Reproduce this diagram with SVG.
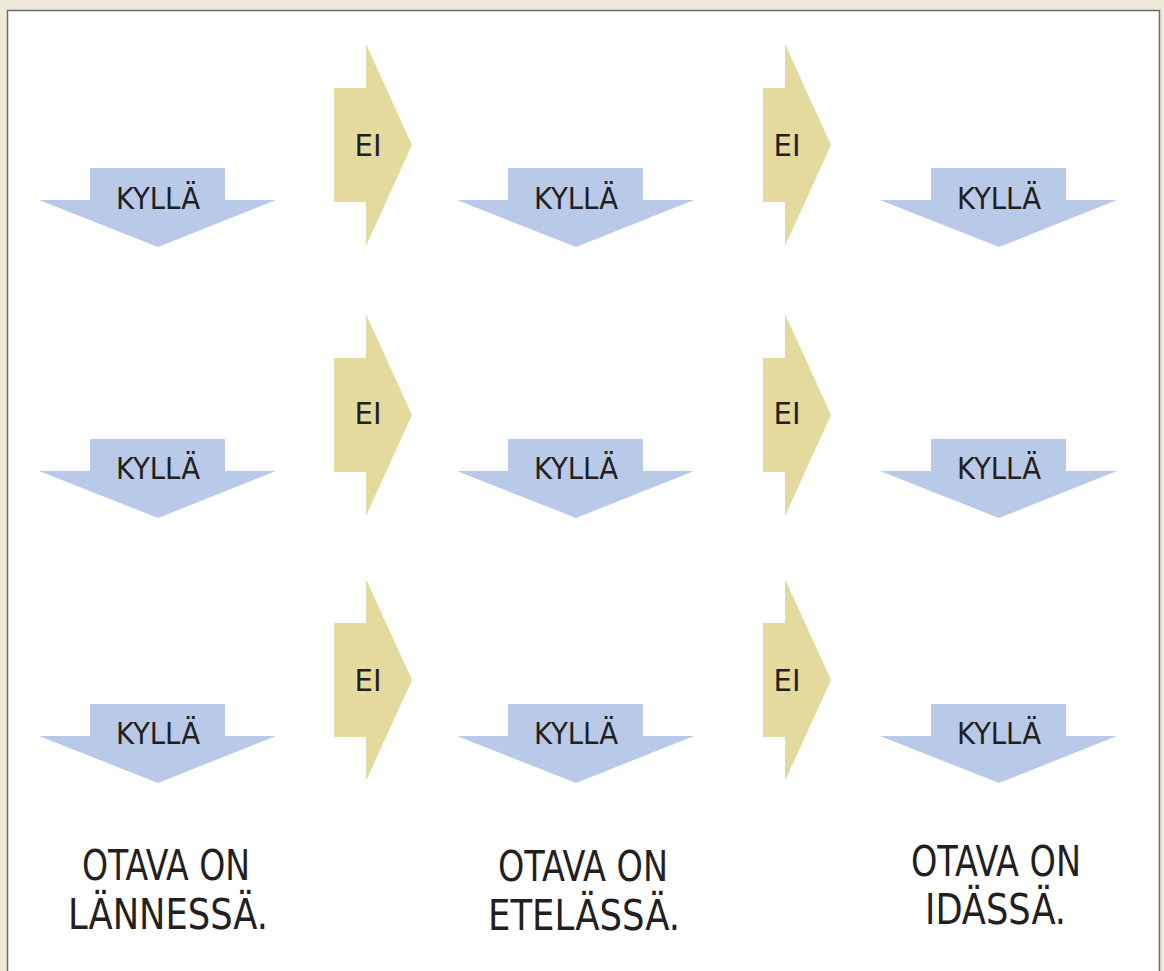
<svg xmlns="http://www.w3.org/2000/svg" width="1164" height="971" viewBox="0 0 1164 971">
<style>
.down{fill:#b9c9e8}
.right{fill:#e4da9e}
.t{font-family:"DejaVu Sans Condensed","DejaVu Sans",sans-serif;fill:#231f20}
.s{font-size:30px;text-anchor:middle}
.b{font-size:43px}
</style>
<defs>
<path id="dn" d="M51,0H186V32H237L119,79L0,32H51Z"/>
<path id="rt" d="M0,44H32V0L78,101L32,202V158H0Z"/>
<path id="rt2" d="M0,44H22V0L68,101L22,202V158H0Z"/>
</defs>
<rect x="0" y="0" width="1164" height="971" fill="#efe9da"/>
<rect x="7" y="10" width="1152" height="970" fill="#ffffff"/>
<path d="M7.5,980V10.5H1159.5V980" fill="none" stroke="#6f6a64" stroke-width="1.5"/>
<g id="connectors">
<use href="#rt" x="334" y="44" class="right"/>
<use href="#rt2" x="763" y="44" class="right"/>
<use href="#rt" x="334" y="314" class="right"/>
<use href="#rt2" x="763" y="314" class="right"/>
<use href="#rt" x="334" y="579" class="right"/>
<use href="#rt2" x="763" y="579" class="right"/>
<use href="#dn" x="39" y="168" class="down"/>
<use href="#dn" x="457" y="168" class="down"/>
<use href="#dn" x="880" y="168" class="down"/>
<use href="#dn" x="39" y="439" class="down"/>
<use href="#dn" x="457" y="439" class="down"/>
<use href="#dn" x="880" y="439" class="down"/>
<use href="#dn" x="39" y="704" class="down"/>
<use href="#dn" x="457" y="704" class="down"/>
<use href="#dn" x="880" y="704" class="down"/>
</g>
<g id="labels">
<text class="t s" x="368" y="156" textLength="27" lengthAdjust="spacingAndGlyphs">EI</text>
<text class="t s" x="787" y="156" textLength="27" lengthAdjust="spacingAndGlyphs">EI</text>
<text class="t s" x="368" y="424" textLength="27" lengthAdjust="spacingAndGlyphs">EI</text>
<text class="t s" x="787" y="424" textLength="27" lengthAdjust="spacingAndGlyphs">EI</text>
<text class="t s" x="368" y="691" textLength="27" lengthAdjust="spacingAndGlyphs">EI</text>
<text class="t s" x="787" y="691" textLength="27" lengthAdjust="spacingAndGlyphs">EI</text>
<text class="t s" x="158" y="209" textLength="84" lengthAdjust="spacingAndGlyphs">KYLLÄ</text>
<text class="t s" x="576" y="209" textLength="84" lengthAdjust="spacingAndGlyphs">KYLLÄ</text>
<text class="t s" x="999" y="209" textLength="84" lengthAdjust="spacingAndGlyphs">KYLLÄ</text>
<text class="t s" x="158" y="479" textLength="84" lengthAdjust="spacingAndGlyphs">KYLLÄ</text>
<text class="t s" x="576" y="479" textLength="84" lengthAdjust="spacingAndGlyphs">KYLLÄ</text>
<text class="t s" x="999" y="479" textLength="84" lengthAdjust="spacingAndGlyphs">KYLLÄ</text>
<text class="t s" x="158" y="744" textLength="84" lengthAdjust="spacingAndGlyphs">KYLLÄ</text>
<text class="t s" x="576" y="744" textLength="84" lengthAdjust="spacingAndGlyphs">KYLLÄ</text>
<text class="t s" x="999" y="744" textLength="84" lengthAdjust="spacingAndGlyphs">KYLLÄ</text>
</g>
<g id="result-west"><text class="t b" x="82" y="880" textLength="168" lengthAdjust="spacingAndGlyphs">OTAVA ON</text><text class="t b" x="68" y="929" textLength="200" lengthAdjust="spacingAndGlyphs">LÄNNESSÄ.</text></g>
<g id="result-south"><text class="t b" x="498" y="881" textLength="170" lengthAdjust="spacingAndGlyphs">OTAVA ON</text><text class="t b" x="488" y="930" textLength="192" lengthAdjust="spacingAndGlyphs">ETELÄSSÄ.</text></g>
<g id="result-east"><text class="t b" x="911" y="876" textLength="170" lengthAdjust="spacingAndGlyphs">OTAVA ON</text><text class="t b" x="925" y="924" textLength="141" lengthAdjust="spacingAndGlyphs">IDÄSSÄ.</text></g>
</svg>
